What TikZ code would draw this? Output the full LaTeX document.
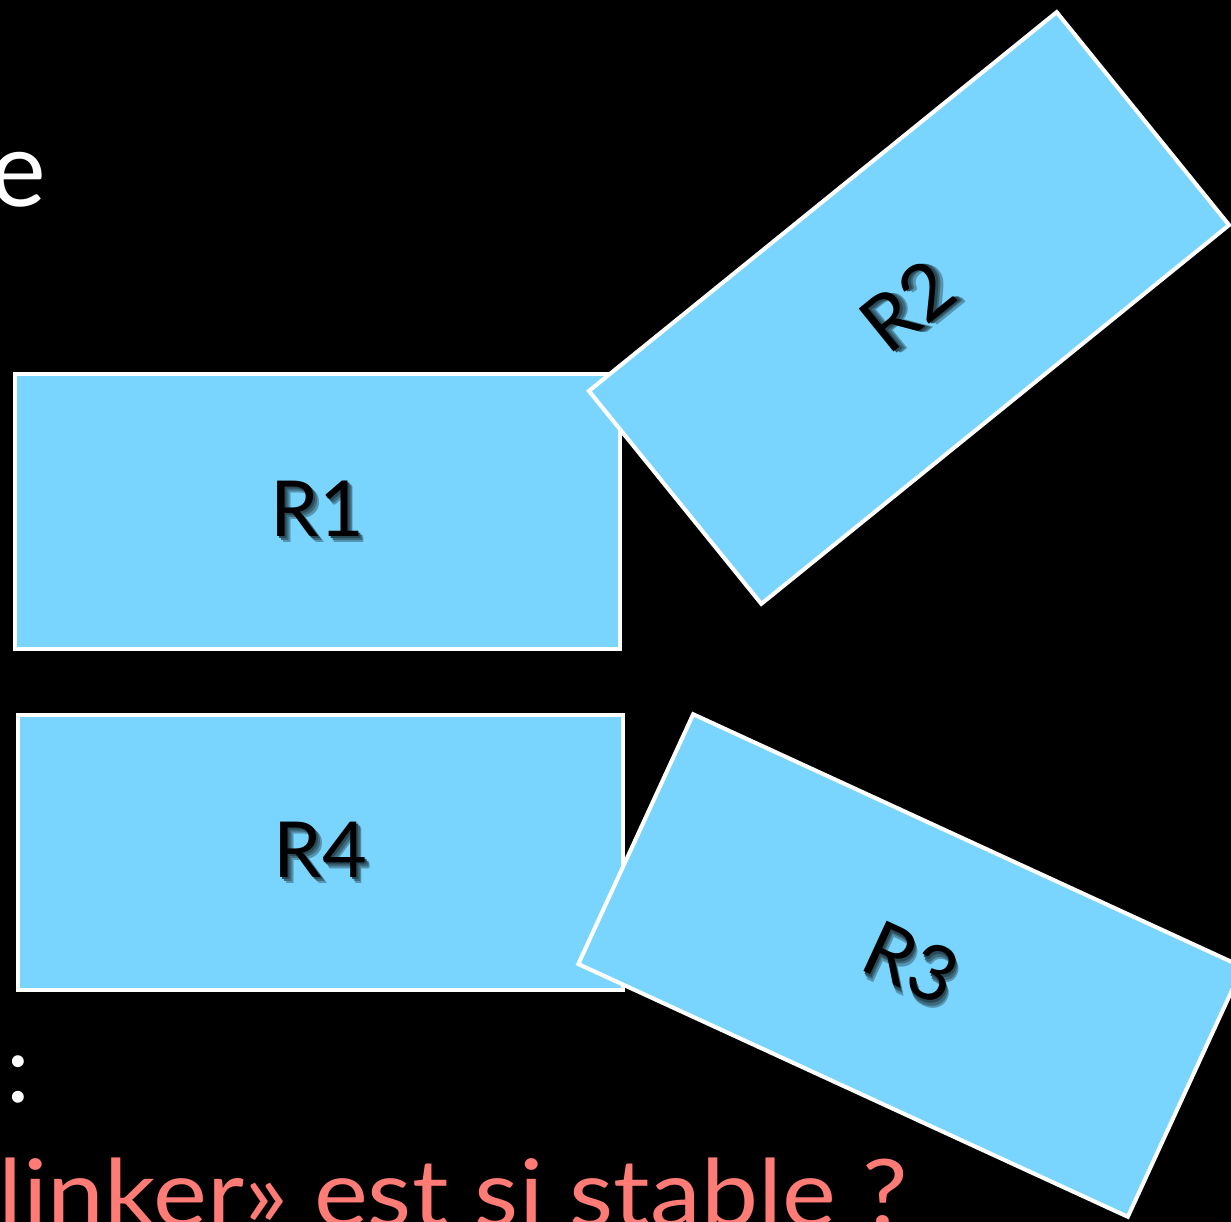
\documentclass[tikz,border=0pt]{standalone}
\usepackage{fontspec}
\setmainfont{Lato}
\definecolor{cellblue}{RGB}{121,213,253}
\definecolor{alertred}{RGB}{255,124,118}
% label text with a soft dark drop shadow underneath
\newcommand\shadowlabel[1]{%
  \makebox[0pt][l]{\hspace{3.2pt}\raisebox{-3.2pt}{\textcolor{cellblue!70!black}{#1}}}%
  \makebox[0pt][l]{\hspace{2.2pt}\raisebox{-2.2pt}{\textcolor{cellblue!50!black}{#1}}}%
  \makebox[0pt][l]{\hspace{1.2pt}\raisebox{-1.2pt}{\textcolor{cellblue!35!black}{#1}}}%
  #1}
\begin{document}
\begin{tikzpicture}[x=0.02cm,y=-0.02cm,
  cell/.style={draw=white, line width=2.3pt, fill=cellblue, inner sep=0pt,
    minimum width=12.1cm, minimum height=5.5cm,
    font=\fontsize{44}{50}\selectfont, text=black},
  slidetext/.style={inner sep=0pt, text=white}]
\fill[black] (0,0) rectangle (1231,1222);
\useasboundingbox (0,0) rectangle (1231,1222);

% text fragments
\node[slidetext, anchor=base east, font=\fontsize{60}{60}\selectfont] (title) at (47,207) {e};
\node[slidetext, anchor=base west, font=\fontsize{54}{60}\selectfont] (colon) at (6,1102) {:};
\node[slidetext, anchor=base east, text=alertred, font=\fontsize{53}{60}\selectfont] (question) at (908,1226)
  {\scalebox{1.095}[1]{«linker» est si stable ?}};

% the four blocks
\node[cell] (r1) at (317.5,511.5) {\shadowlabel{R1}};
\node[cell] (r4) at (320.5,852.5) {\shadowlabel{R4}};
\node[cell, rotate=39, minimum width=12.04cm, minimum height=5.48cm] (r2) at (909,308) {\shadowlabel{R2}};
\node[cell, rotate=-24.7] (r3) at (910.5,965.5) {\shadowlabel{R3}};
\end{tikzpicture}
\end{document}
